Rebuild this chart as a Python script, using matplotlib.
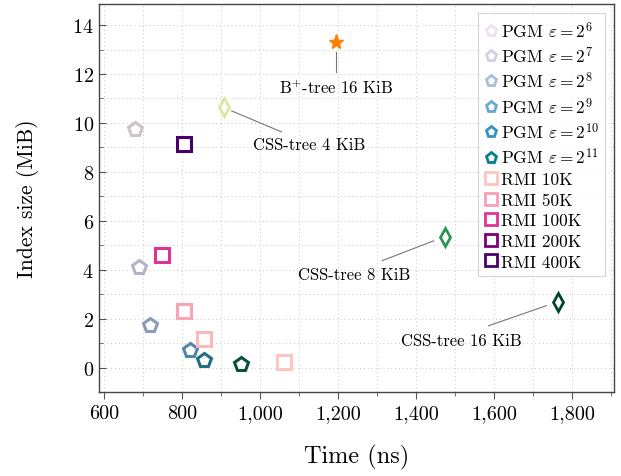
import numpy as np
import matplotlib
matplotlib.use("Agg")
import matplotlib.pyplot as plt
from matplotlib.lines import Line2D
from matplotlib.ticker import FuncFormatter, MultipleLocator

plt.rcParams['font.family'] = ['cmr10', 'DejaVu Serif']
plt.rcParams['mathtext.fontset'] = 'cm'
plt.rcParams['axes.formatter.use_mathtext'] = True

# PGM, one point per epsilon
pgm_labels = [r'PGM $\varepsilon = 2^{6}$', r'PGM $\varepsilon = 2^{7}$', r'PGM $\varepsilon = 2^{8}$',
              r'PGM $\varepsilon = 2^{9}$', r'PGM $\varepsilon = 2^{10}$', r'PGM $\varepsilon = 2^{11}$']
pgm_time = [680, 690, 718, 820, 857, 952]
pgm_size = [9.75, 4.12, 1.72, 0.72, 0.33, 0.16]
pgm_colors = ['#cbc4ca', '#b4b3c6', '#8b9cb9', '#4f86a9', '#1e6e84', '#0b4f3f']
pgm_legend_colors = ['#ece2f0', '#d0d1e6', '#a6bddb', '#67a9cf', '#3690c0', '#02818a']

# RMI, one point per number of models
rmi_labels = ['RMI 10K', 'RMI 50K', 'RMI 100K', 'RMI 200K', 'RMI 400K']
rmi_time = [1060, 857, 805, 748, 805]
rmi_size = [0.23, 1.15, 2.3, 4.6, 9.15]
rmi_colors = ['#fcc5c0', '#fbb8bd', '#f8a5b6', '#dd3497', '#49006a']
rmi_legend_colors = ['#fcc5c0', '#fa9fb5', '#dd3497', '#7a0177', '#49006a']

# CSS-trees and B+-tree
css_labels = ['CSS-tree 4 KiB', 'CSS-tree 8 KiB', 'CSS-tree 16 KiB']
css_time = [907, 1475, 1765]
css_size = [10.65, 5.32, 2.68]
css_colors = ['#d5eca0', '#2f9452', '#00452b']

btree_label = 'B$^{+}$-tree 16 KiB'
btree_time = 1195
btree_size = 13.3

fig = plt.figure(figsize=(6.21, 4.77), dpi=100)
ax = fig.add_axes([0.159, 0.176, 0.830, 0.813])

for t, s, c in zip(pgm_time, pgm_size, pgm_colors):
    ax.plot(t, s, marker='p', ms=10.5, mfc='white', mec=c, mew=2.2, ls='none', zorder=3)
for t, s, c in zip(rmi_time, rmi_size, rmi_colors):
    ax.plot(t, s, marker='s', ms=9.5, mfc='white', mec=c, mew=2.2, ls='none', zorder=3)
for t, s, c in zip(css_time, css_size, css_colors):
    ax.plot(t, s, marker='d', ms=9, mfc='white', mec=c, mew=2.0, ls='none', zorder=3)
ax.plot(btree_time, btree_size, marker='*', ms=11, color='#ff7f00', ls='none', zorder=3)

# annotations: leader line from near the mark, then the label
lc = '#777777'
ax.plot([1195, 1195], [12.9, 12.1], color=lc, lw=0.8)
ax.text(1195, 11.45, btree_label, ha='center', va='center', fontsize=12)
ax.plot([927, 1055], [10.49, 9.63], color=lc, lw=0.8)
ax.text(1126, 9.12, css_labels[0], ha='center', va='center', fontsize=12)
ax.plot([1445, 1313], [5.18, 4.37], color=lc, lw=0.8)
ax.text(1241, 3.82, css_labels[1], ha='center', va='center', fontsize=12)
ax.plot([1734, 1586], [2.53, 1.71], color=lc, lw=0.8)
ax.text(1517, 1.12, css_labels[2], ha='center', va='center', fontsize=12)

ax.set_xlim(586, 1908)
ax.set_ylim(-1, 14.85)
ax.xaxis.set_major_locator(MultipleLocator(200))
ax.xaxis.set_minor_locator(MultipleLocator(100))
ax.yaxis.set_major_locator(MultipleLocator(2))
ax.yaxis.set_minor_locator(MultipleLocator(1))
ax.xaxis.set_major_formatter(FuncFormatter(lambda v, p: f'{v:,.0f}'))
ax.grid(True, which='both', ls=(0, (1, 3)), color='#c4c4c4', lw=0.7)
ax.set_axisbelow(True)
ax.tick_params(which='major', labelsize=14.5, length=5, direction='out', color='#555555')
ax.tick_params(which='minor', length=3, color='#555555')
ax.tick_params(axis='y', which='both', direction='in')
for sp in ax.spines.values():
    sp.set_linewidth(1.0)
    sp.set_color('#444444')

ax.set_xlabel('Time (ns)', fontsize=17.5, labelpad=16)
ax.set_ylabel('Index size (MiB)', fontsize=15.5, labelpad=24)

handles = []
for lab, c in zip(pgm_labels, pgm_legend_colors):
    handles.append(Line2D([], [], marker='p', ms=8, mfc='white', mec=c, mew=2, ls='none', label=lab))
for lab, c in zip(rmi_labels, rmi_legend_colors):
    handles.append(Line2D([], [], marker='s', ms=9, mfc='white', mec=c, mew=2, ls='none', label=lab))
leg = ax.legend(handles=handles, loc='upper right', fontsize=12.5, frameon=True, fancybox=False,
                edgecolor='#cccccc', handlelength=0.7, handletextpad=0.2, labelspacing=0.3,
                borderpad=0.4, borderaxespad=0.5)
leg.get_frame().set_linewidth(0.8)

fig.savefig('out.png', dpi=100)
